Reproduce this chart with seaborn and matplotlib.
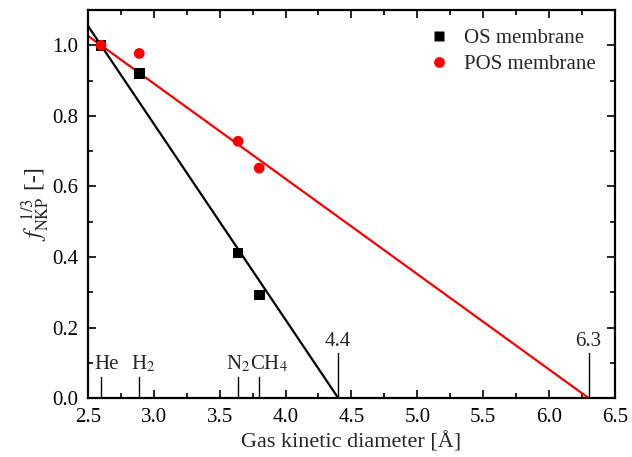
import numpy as np
import pandas as pd
import matplotlib
matplotlib.use("Agg")
import matplotlib.pyplot as plt
import seaborn as sns
from matplotlib.ticker import MultipleLocator

# Gas kinetic diameters (Å) and the cube-root normalised permeance
gases = ["He", "H$_2$", "N$_2$", "CH$_4$"]
diameters = [2.6, 2.89, 3.64, 3.8]
os_values = [1.0, 0.921, 0.411, 0.292]
pos_values = [1.0, 0.977, 0.728, 0.652]

# Zero-crossing (pore size) of each trend line
os_cutoff = 4.4
pos_cutoff = 6.3

sns.set_theme(style="ticks")
plt.rcParams["font.family"] = ["Liberation Serif", "DejaVu Serif"]
plt.rcParams["mathtext.fontset"] = "stix"

fig = plt.figure(figsize=(6.32, 4.57), dpi=100)
ax = fig.add_axes([0.139, 0.129, 0.834, 0.849])

df = pd.DataFrame({
    "d": diameters * 2,
    "f": os_values + pos_values,
    "membrane": ["OS membrane"] * 4 + ["POS membrane"] * 4,
})

# Trend lines through the He point and the zero-crossing
x0, y0 = diameters[0], 1.0
for cutoff, color in [(os_cutoff, "black"), (pos_cutoff, "red")]:
    slope = -y0 / (cutoff - x0)
    xs = np.array([2.5, cutoff])
    ys = y0 + slope * (xs - x0)
    sns.lineplot(x=xs, y=ys, ax=ax, color=color, linewidth=1.6, legend=False)

sns.scatterplot(data=df, x="d", y="f", hue="membrane", style="membrane",
                palette={"OS membrane": "black", "POS membrane": "red"},
                markers={"OS membrane": "s", "POS membrane": "o"},
                s=60, edgecolor="none", ax=ax, zorder=5)

# Gas markers along the x axis
for d in diameters:
    ax.plot([d, d], [0, 0.06], color="black", linewidth=1)
label_x = [2.64, 2.92, 3.73, 3.73]
label_ha = ["center", "center", "right", "left"]
for name, lx, ha in zip(gases, label_x, label_ha):
    ax.text(lx, 0.068, name, ha=ha, va="bottom", fontsize=15)

# Pore size markers
for cutoff in (os_cutoff, pos_cutoff):
    ax.plot([cutoff, cutoff], [0, 0.127], color="black", linewidth=1)
    ax.text(cutoff, 0.132, f"{cutoff:.1f}", ha="center", va="bottom", fontsize=15)

ax.set_xlim(2.5, 6.5)
ax.set_ylim(0, 1.1)
ax.xaxis.set_major_locator(MultipleLocator(0.5))
ax.xaxis.set_minor_locator(MultipleLocator(0.25))
ax.yaxis.set_major_locator(MultipleLocator(0.2))
ax.yaxis.set_minor_locator(MultipleLocator(0.1))
ax.tick_params(which="both", direction="in", top=True, right=True,
               labelsize=15, colors="black", pad=7)
ax.tick_params(which="major", length=6, width=1.2)
ax.tick_params(which="minor", length=3.5, width=1.2)
for side in ax.spines.values():
    side.set_linewidth(1.6)
    side.set_color("black")

ax.set_xlabel("Gas kinetic diameter [Å]", fontsize=16, labelpad=4)
ax.set_ylabel(r"$f_{\rm NKP}^{\ \ 1/3}$ [-]", fontsize=17, labelpad=0)

leg = ax.legend(loc="upper right", frameon=False, fontsize=15,
                handletextpad=0.2, markerscale=1.0, borderaxespad=0.5,
                labelspacing=0.3)
leg.set_title(None)

fig.savefig("out.png", dpi=100)
